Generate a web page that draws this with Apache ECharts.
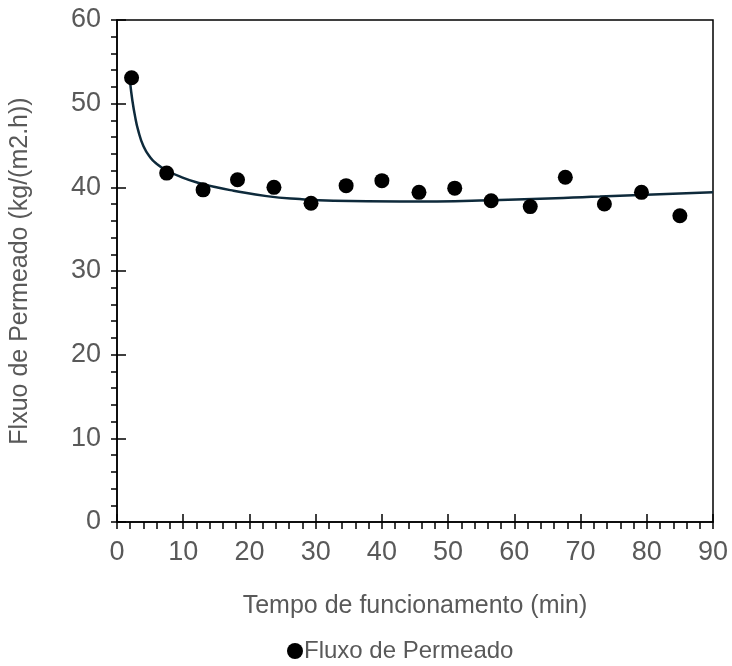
<!DOCTYPE html>
<html>
<head>
<meta charset="utf-8">
<script src="https://cdn.jsdelivr.net/npm/echarts@6/dist/echarts.min.js"></script>
<style>html,body{margin:0;padding:0;background:#fff}#c{width:732px;height:666px}</style>
</head>
<body>
<div id="c"></div>
<script>
// Measured points
var timeMin = [2.2, 7.5, 13.0, 18.2, 23.7, 29.3, 34.6, 40.0, 45.6, 51.0, 56.5, 62.4, 67.7, 73.6, 79.2, 85.0];
var fluxo   = [53.1, 41.7, 39.7, 40.9, 40.0, 38.1, 40.2, 40.8, 39.4, 39.9, 38.4, 37.7, 41.2, 38.0, 39.4, 36.6];
// Trend curve
var trendX = [2.0, 2.3, 2.7, 3.2, 4.0, 5.0, 6.0, 7.3, 9.8, 12.5, 15.0, 17.6, 22.6, 27.6, 32.7, 42.7, 57.8, 72.9, 90];
var trendY = [52.4, 50.5, 48.6, 46.8, 44.9, 43.6, 42.8, 42.1, 41.2, 40.5, 40.0, 39.6, 38.95, 38.6, 38.4, 38.3, 38.5, 38.9, 39.4];
var xTicks = [0, 10, 20, 30, 40, 50, 60, 70, 80, 90];
var yTicks = [0, 10, 20, 30, 40, 50, 60];

var scatterData = timeMin.map(function (t, i) { return [t, fluxo[i]]; });
var trendData = trendX.map(function (t, i) { return [t, trendY[i]]; });

var txt = '#595959';
var font = '"Liberation Sans", Arial, sans-serif';
var lineSt = { color: '#000', width: 1.5 };

var chart = echarts.init(document.getElementById('c'), null, { renderer: 'canvas' });
chart.setOption({
  animation: false,
  textStyle: { fontFamily: font },
  grid: { left: 117, right: 19, top: 20, bottom: 144, show: true, borderColor: '#000', borderWidth: 1.5,
          containLabel: false, outerBoundsMode: 'none' },
  legend: {
    bottom: -2, left: 282,
    data: [{ name: 'Fluxo de Permeado', icon: 'circle' }],
    itemWidth: 16, itemHeight: 16, itemGap: 4,
    textStyle: { fontSize: 24, color: txt, fontFamily: font, padding: [0, 0, 0, -4] }
  },
  xAxis: [{
    type: 'value', min: xTicks[0], max: xTicks[xTicks.length - 1], interval: 10, position: 'bottom',
    name: 'Tempo de funcionamento (min)', nameLocation: 'middle', nameGap: 72,
    nameTextStyle: { fontSize: 25, color: txt, fontFamily: font },
    axisLine: { show: true, lineStyle: lineSt },
    axisTick: { show: true, inside: true, length: 8, lineStyle: lineSt },
    axisLabel: { fontSize: 27, color: txt, margin: 17, fontFamily: font },
    splitLine: { show: false }
  }, {
    type: 'value', min: xTicks[0], max: xTicks[xTicks.length - 1], interval: 10, position: 'bottom', offset: 0,
    axisLine: { show: false },
    axisTick: { show: true, inside: false, length: 7, lineStyle: lineSt },
    minorTick: { show: true, splitNumber: 5, length: 7, lineStyle: lineSt },
    axisLabel: { show: false },
    splitLine: { show: false }
  }],
  yAxis: [{
    type: 'value', min: yTicks[0], max: yTicks[yTicks.length - 1], interval: 10, position: 'left',
    name: 'Flxuo de Permeado (kg/(m2.h))', nameLocation: 'middle', nameGap: 84, nameRotate: 90,
    nameTextStyle: { fontSize: 25, color: txt, fontFamily: font },
    axisLine: { show: true, lineStyle: lineSt },
    axisTick: { show: true, inside: true, length: 9, lineStyle: lineSt },
    axisLabel: { fontSize: 27, color: txt, margin: 16, fontFamily: font },
    splitLine: { show: false }
  }, {
    type: 'value', min: yTicks[0], max: yTicks[yTicks.length - 1], interval: 10, position: 'left', offset: 0,
    axisLine: { show: false },
    axisTick: { show: true, inside: false, length: 6, lineStyle: lineSt },
    minorTick: { show: true, splitNumber: 5, length: 6, lineStyle: lineSt },
    axisLabel: { show: false },
    splitLine: { show: false }
  }],
  series: [{
    name: 'Trend', type: 'line', data: trendData, smooth: 0.5, showSymbol: false, symbol: 'none',
    lineStyle: { color: '#0e2a3b', width: 2.5 }, z: 2, silent: true
  }, {
    name: 'Fluxo de Permeado', type: 'scatter', data: scatterData, symbol: 'circle', symbolSize: 15,
    itemStyle: { color: '#000', opacity: 1 }, z: 3
  }]
});
</script>
</body>
</html>
